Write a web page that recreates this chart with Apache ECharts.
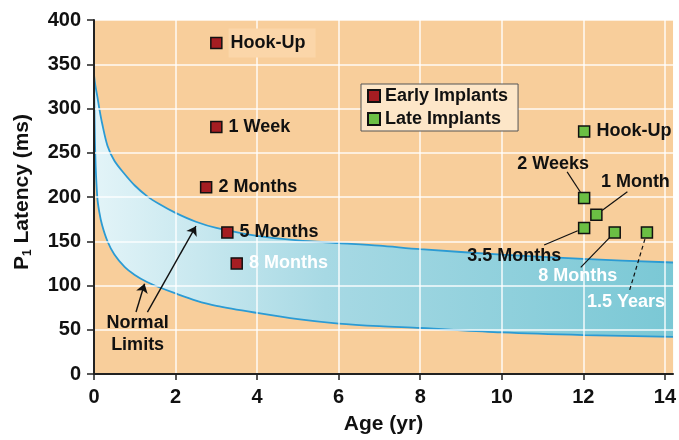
<!DOCTYPE html>
<html>
<head>
<meta charset="utf-8">
<script src="https://cdn.jsdelivr.net/npm/echarts@6/dist/echarts.min.js"></script>
<style>
  html, body { margin: 0; padding: 0; background: #fff; }
  #chart { width: 679px; height: 440px; }
</style>
</head>
<body>
<div id="chart"></div>
<script>
// normal limits band (age in years, latency in ms)
var bandAge   = [0, 0.03, 0.08, 0.13, 0.2, 0.33, 0.5, 0.75, 1, 1.3, 1.6, 2, 2.5, 3, 4, 5, 6, 7, 8, 10, 12, 14.2];
var bandUpper = [338, 327, 314, 300, 283, 258, 241, 226, 213, 201, 192, 182, 172, 165, 156, 151, 148, 145, 141, 135, 130, 126];
var bandLower = [336, 250, 200, 183, 168, 150, 135, 121, 112, 104, 98, 91, 83, 77, 69, 62, 57, 54, 52, 47, 44, 42];

// early implants
var earlyAge     = [3.0, 3.0, 2.75, 3.27, 3.5];
var earlyLatency = [374, 279, 211, 160, 125];
var earlyNames   = ['Hook-Up', '1 Week', '2 Months', '5 Months', '8 Months'];

// late implants
var lateAge     = [12.02, 12.02, 12.32, 12.02, 12.77, 13.56];
var lateLatency = [274, 199, 180, 165, 160, 160];
var lateNames   = ['Hook-Up', '2 Weeks', '1 Month', '3.5 Months', '8 Months', '1.5 Years'];

// axis ticks
var xTicks = [0, 2, 4, 6, 8, 10, 12, 14];

// "Normal Limits" arrows, [from, to] in data units
var limitArrows = [
  [[1.03, 70], [1.24, 102]],
  [[1.31, 70], [2.5, 167]]
];
var limitTextAt = [1.07, 45];

// late group labels: label centre offset from marker, and leader line end (px)
var lateLabelOffsets = { 1: [-31, -34], 2: [39, -33], 3: [-70, 28], 4: [-37, 44], 5: [-21, 70] };
var lateLineEnds = { 1: [-17, -26], 2: [31, -23], 3: [-40, 17], 4: [-34, 35], 5: [-18, 60] };
var dashedLines = { 5: true };
var whiteEarly = { 4: true };
var whiteLate = { 4: true, 5: true };

var chart = echarts.init(document.getElementById('chart'));
var font = '"Liberation Sans", Arial, sans-serif';
var plotBg = '#f8ce9b';

var earlyData = earlyAge.map(function (a, i) {
  var item = { name: earlyNames[i], value: [a, earlyLatency[i]] };
  if (whiteEarly[i]) item.label = { color: '#fff' };
  if (i === 0) item.label = { backgroundColor: '#fbd6a9', padding: [6, 10, 5, 2] };
  return item;
});

var lateData = lateAge.map(function (a, i) {
  var item = { name: lateNames[i], value: [a, lateLatency[i]] };
  if (lateLabelOffsets[i]) {
    item.label = { position: 'inside', distance: 0 };
    if (whiteLate[i]) item.label.color = '#fff';
  }
  return item;
});

var option = {
  animation: false,
  textStyle: { fontFamily: font },
  grid: {
    left: 94, right: 4, top: 20, bottom: 65,
    show: true, backgroundColor: plotBg, borderWidth: 0
  },
  legend: {
    left: 361, top: 84,
    orient: 'vertical',
    backgroundColor: '#fde6c8',
    borderColor: '#555', borderWidth: 1,
    padding: [3, 10, 3, 6],
    itemWidth: 12, itemHeight: 12, itemGap: 5,
    icon: 'rect',
    textStyle: { fontSize: 18, fontWeight: 'bold', color: '#111', fontFamily: font },
    data: ['Early Implants', 'Late Implants']
  },
  xAxis: {
    type: 'value', min: 0, max: 14.2, interval: 2, z: 3,
    name: 'Age (yr)', nameLocation: 'middle', nameGap: 40,
    nameTextStyle: { fontSize: 21, fontWeight: 'bold', color: '#111' },
    axisLine: { lineStyle: { color: '#222', width: 2 } },
    axisTick: { length: 6, lineStyle: { color: '#222', width: 1.5 }, customValues: xTicks },
    axisLabel: {
      customValues: xTicks, margin: 13,
      fontSize: 20, fontWeight: 'bold', color: '#111',
      formatter: function (v) { return v % 2 === 0 ? String(v) : ''; }
    },
    splitLine: { show: true, lineStyle: { color: 'rgba(255,255,255,0.9)', width: 1.5 } }
  },
  yAxis: {
    type: 'value', min: 0, max: 400, interval: 50, z: 3,
    name: '{p|P}{b|1}{a| Latency (ms)}', nameLocation: 'middle', nameGap: 60, nameRotate: 90,
    nameTextStyle: {
      rich: {
        p: { fontSize: 21, fontWeight: 'bold', color: '#111', lineHeight: 24, fontFamily: font, padding: [0, 0, 0, 10] },
        a: { fontSize: 21, fontWeight: 'bold', color: '#111', lineHeight: 24, fontFamily: font },
        b: { fontSize: 12, fontWeight: 'bold', color: '#111', lineHeight: 12, verticalAlign: 'bottom', fontFamily: font }
      }
    },
    axisLine: { show: true, lineStyle: { color: '#222', width: 2 } },
    axisTick: { show: true, length: 7, lineStyle: { color: '#222', width: 1.5 } },
    axisLabel: { margin: 13, fontSize: 20, fontWeight: 'bold', color: '#111' },
    splitLine: { show: true, lineStyle: { color: 'rgba(255,255,255,0.9)', width: 1.5 } }
  },
  series: [
    {
      name: 'upper', type: 'line', z: 2,
      data: bandAge.map(function (a, i) { return [a, bandUpper[i]]; }),
      symbol: 'none', smooth: 0.3,
      lineStyle: { color: '#2b9bd4', width: 1.8 },
      areaStyle: {
        opacity: 1,
        color: new echarts.graphic.LinearGradient(0, 0, 1, 0, [
          { offset: 0, color: '#e3f4f8' },
          { offset: 0.4, color: '#a7d9e4' },
          { offset: 1, color: '#7ac8d5' }
        ])
      }
    },
    {
      // covers the band below the lower limit with the plot colour
      name: 'lower', type: 'line', z: 2,
      data: bandAge.map(function (a, i) { return [a, bandLower[i]]; }),
      symbol: 'none', smooth: 0.3,
      lineStyle: { color: '#2b9bd4', width: 1.8 },
      areaStyle: { opacity: 1, color: plotBg }
    },
    {
      name: 'Early Implants', type: 'scatter', z: 5,
      symbol: 'rect', symbolSize: 11,
      itemStyle: { color: '#a51d22', borderColor: '#111', borderWidth: 1.5, opacity: 1 },
      label: {
        show: true, position: 'right', distance: 6,
        formatter: '{b}', fontSize: 18, fontWeight: 'bold', color: '#111', fontFamily: font
      },
      data: earlyData,
      markLine: {
        silent: true, symbol: ['none', 'arrow'], symbolSize: 9,
        label: { show: false },
        lineStyle: { color: '#111', width: 1.4, type: 'solid' },
        data: limitArrows.map(function (p) { return [{ coord: p[0] }, { coord: p[1] }]; })
      },
      markPoint: {
        silent: true, symbol: 'rect', symbolSize: 0,
        label: {
          show: true, position: 'inside', formatter: 'Normal\nLimits',
          fontSize: 18, fontWeight: 'bold', color: '#111', lineHeight: 22, fontFamily: font
        },
        data: [{ coord: limitTextAt }]
      }
    },
    {
      name: 'Late Implants', type: 'scatter', z: 5,
      symbol: 'rect', symbolSize: 11,
      itemStyle: { color: '#6bbf44', borderColor: '#111', borderWidth: 1.5, opacity: 1 },
      label: {
        show: true, position: 'right', distance: 6,
        formatter: '{b}', fontSize: 18, fontWeight: 'bold', color: '#111', fontFamily: font
      },
      labelLayout: function (p) {
        var off = lateLabelOffsets[p.dataIndex];
        return off ? { dx: off[0], dy: off[1] } : {};
      },
      data: lateData
    }
  ]
};

chart.setOption(option);

// leader lines from late markers to their moved labels
var leaders = [];
lateAge.forEach(function (a, i) {
  var end = lateLineEnds[i];
  if (!end) return;
  var m = chart.convertToPixel({ seriesIndex: 3 }, [a, lateLatency[i]]);
  var len = Math.sqrt(end[0] * end[0] + end[1] * end[1]);
  leaders.push({
    type: 'line', z: 4, silent: true,
    shape: {
      x1: m[0] + end[0] / len * 7, y1: m[1] + end[1] / len * 7,
      x2: m[0] + end[0], y2: m[1] + end[1]
    },
    style: { stroke: '#111', lineWidth: 1.2, lineDash: dashedLines[i] ? [4, 3] : null }
  });
});
chart.setOption({ graphic: leaders });

window.onresize = function () { chart.resize(); };
</script>
</body>
</html>
